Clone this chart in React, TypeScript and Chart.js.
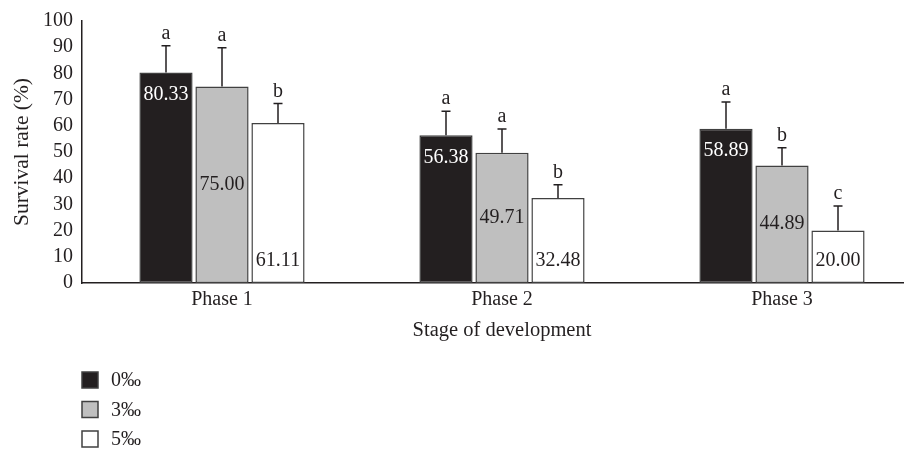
import { useEffect, useRef } from 'react';
import { Chart, registerables } from 'chart.js';

Chart.register(...registerables);

const categories = ['Phase 1', 'Phase 2', 'Phase 3'];
const seriesNames = ['0‰', '3‰', '5‰'];
const values0 = [80.33, 56.38, 58.89];
const values3 = [75.0, 49.71, 44.89];
const values5 = [61.11, 32.48, 20.0];
const errors0 = [10.2, 9.2, 10.2];
const errors3 = [14.8, 9.1, 6.7];
const errors5 = [7.4, 5.0, 9.4];
const letters0 = ['a', 'a', 'a'];
const letters3 = ['a', 'a', 'b'];
const letters5 = ['b', 'b', 'c'];
const yMin = 0;
const yMax = 100;
const yStep = 10;

const FONT = '"Liberation Serif", "Times New Roman", serif';
const INK = '#231f20';
const EDGE = '#404040';
const fills = ['#231f20', '#bfbfbf', '#ffffff'];
const valueColors = ['#ffffff', '#231f20', '#231f20'];

const errorSets = [errors0, errors3, errors5];
const letterSets = [letters0, letters3, letters5];

const annotate = {
  id: 'annotate',
  afterDatasetsDraw(chart: any) {
    const ctx = chart.ctx;
    const yScale = chart.scales.y;
    ctx.save();
    chart.data.datasets.forEach((ds: any, di: number) => {
      const meta = chart.getDatasetMeta(di);
      meta.data.forEach((bar: any, i: number) => {
        const v = ds.data[i];
        const top = bar.y;
        const base = bar.base;
        const x = bar.x;
        const yErr = yScale.getPixelForValue(v + errorSets[di][i]);
        ctx.strokeStyle = INK;
        ctx.lineWidth = 1.5;
        ctx.beginPath();
        ctx.moveTo(x, top);
        ctx.lineTo(x, yErr);
        ctx.moveTo(x - 4.5, yErr);
        ctx.lineTo(x + 4.5, yErr);
        ctx.stroke();
        ctx.fillStyle = INK;
        ctx.font = `20px ${FONT}`;
        ctx.textAlign = 'center';
        ctx.textBaseline = 'alphabetic';
        ctx.fillText(letterSets[di][i], x, yErr - 7);
        let ly: number;
        if (di === 0) ly = top + 22;
        else if (di === 1) ly = (top + base) / 2;
        else ly = base - 22;
        ctx.fillStyle = valueColors[di];
        ctx.textBaseline = 'middle';
        ctx.fillText(v.toFixed(2), x, ly);
      });
    });
    const lx = 82;
    const rows = [380, 409.5, 439];
    seriesNames.forEach((name, i) => {
      ctx.fillStyle = fills[i];
      ctx.fillRect(lx, rows[i] - 8, 16, 16);
      ctx.strokeStyle = EDGE;
      ctx.lineWidth = 1.5;
      ctx.strokeRect(lx, rows[i] - 8, 16, 16);
      ctx.fillStyle = INK;
      ctx.font = `20px ${FONT}`;
      ctx.textAlign = 'left';
      ctx.textBaseline = 'middle';
      ctx.fillText(name, 111, rows[i] + 1);
    });
    ctx.restore();
  },
};

export default function App() {
  const ref = useRef<HTMLCanvasElement>(null);
  useEffect(() => {
    if (!ref.current) return;
    const datasets = [values0, values3, values5].map((vals, i) => ({
      label: seriesNames[i],
      data: vals,
      backgroundColor: fills[i],
      borderColor: EDGE,
      borderWidth: 1.5,
      borderSkipped: false,
      categoryPercentage: 0.6,
      barPercentage: 0.95,
    }));
    const chart = new Chart(ref.current, {
      type: 'bar',
      data: { labels: categories, datasets },
      plugins: [annotate],
      options: {
        responsive: false,
        animation: false,
        devicePixelRatio: 1,
        layout: { padding: { top: 21, bottom: 106, left: 0, right: 0 } },
        plugins: {
          legend: { display: false },
          tooltip: { enabled: false },
        },
        scales: {
          x: {
            grid: { display: false, drawTicks: false },
            border: { display: true, color: INK, width: 1.5 },
            ticks: { color: INK, font: { family: FONT, size: 20 }, padding: 5 },
            title: {
              display: true,
              text: 'Stage of development',
              color: INK,
              font: { family: FONT, size: 20.5 },
              padding: 0,
            },
            afterFit: (s: any) => {
              s.height = 60;
            },
          },
          y: {
            min: yMin,
            max: yMax,
            grid: { display: false, drawTicks: false },
            border: { display: true, color: INK, width: 1.5 },
            ticks: {
              stepSize: yStep,
              autoSkip: false,
              color: INK,
              font: { family: FONT, size: 20 },
              padding: 9,
            },
            title: {
              display: true,
              text: 'Survival rate (%)',
              color: INK,
              font: { family: FONT, size: 21.5 },
              padding: { top: 9, bottom: 0 },
            },
            afterFit: (s: any) => {
              s.width = 82;
            },
          },
        },
      },
    });
    return () => chart.destroy();
  }, []);
  return (
    <div
      style={{
        position: 'absolute',
        left: 0,
        top: 0,
        width: 904,
        height: 449,
        overflow: 'hidden',
        background: '#fff',
      }}
    >
      <canvas ref={ref} width={922} height={449} style={{ display: 'block' }} />
    </div>
  );
}
